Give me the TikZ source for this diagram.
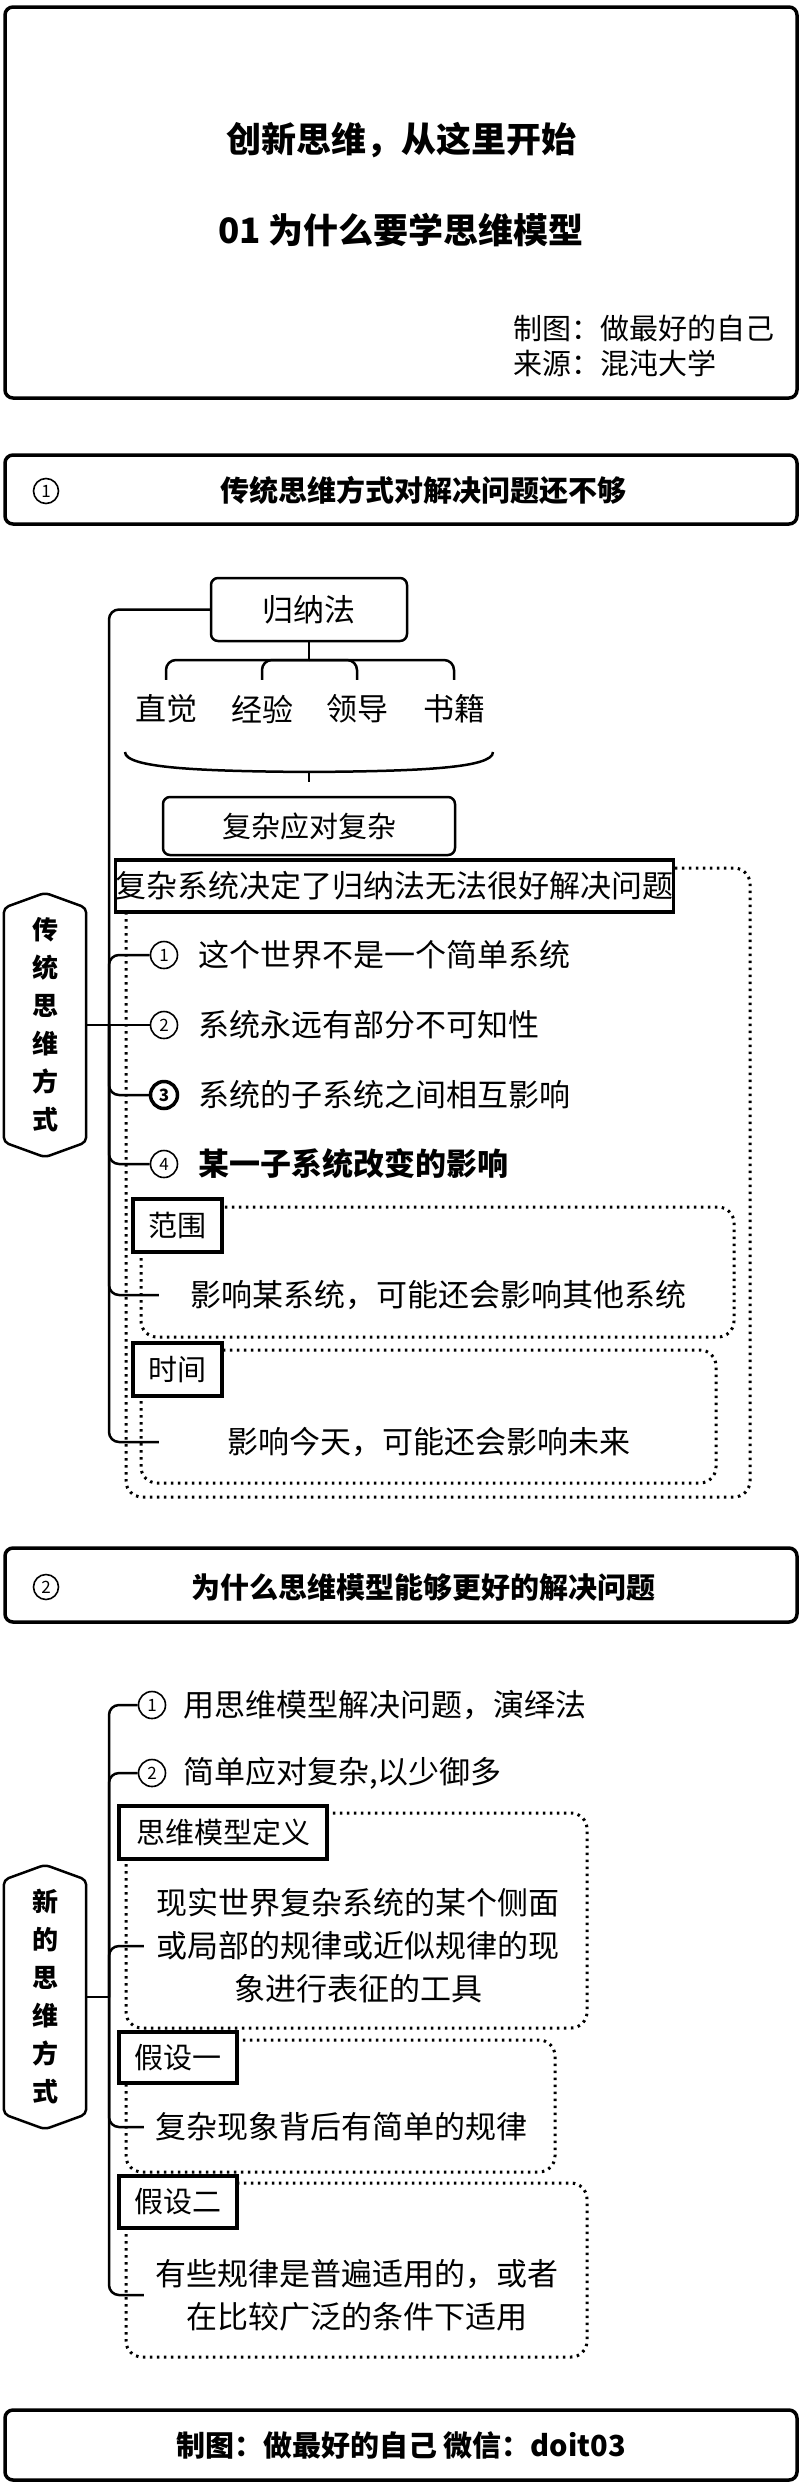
\documentclass[tikz,border=0pt]{standalone}
\usepackage{fontspec}
\setmainfont{Noto Sans CJK SC}
\usetikzlibrary{positioning}
\tikzset{frame/.style = {draw, line width = 3.5, rounded corners = 8,
                         minimum width = 792, inner sep = 0}}
\tikzset{title/.style = {font = \fontsize{35}{42}\selectfont\bfseries}}
\tikzset{head/.style = {font = \fontsize{29}{35}\selectfont\bfseries}}
\tikzset{txt/.style = {font = \fontsize{31}{43}\selectfont, inner sep = 0}}
\tikzset{small/.style = {font = \fontsize{29}{35}\selectfont, inner sep = 0}}
\tikzset{rbox/.style = {draw, line width = 2.5, rounded corners = 7}}
\tikzset{tag/.style = {draw, line width = 3.5, fill = white, inner sep = 0,
                       font = \fontsize{29}{35}\selectfont}}
\tikzset{zone/.style = {line width = 3, dash pattern = on 2.5pt off 4.5pt,
                        rounded corners = 16}}
\tikzset{branch/.style = {line width = 2.5, rounded corners = 10}}
\tikzset{hex/.style = {line width = 2.5, rounded corners = 5}}
\tikzset{root/.style = {align = center, font = \fontsize{26}{38}\selectfont\bfseries,
                        minimum width = 82, minimum height = 264, inner sep = 0}}
\tikzset{num/.style = {circle, draw, line width = 1.6, minimum size = 27, inner sep = 0,
                       font = \fontsize{17}{17}\selectfont}}
\tikzset{numb/.style = {num, line width = 3.5, font = \fontsize{17}{17}\selectfont\bfseries}}

\begin{document}
\begin{tikzpicture}[x = 1pt, y = -1pt]
  \useasboundingbox (0, 0) rectangle (800, 2492);

  % title block
  \node [frame, minimum height = 391] (top) at (401, 202.5) {};
  \node [title] (t1) at (401, 140) {创新思维，从这里开始};
  \node [title] (t2) at (401, 230) {01 为什么要学思维模型};
  \node [small, anchor = west] (by) at (513, 328) {制图：做最好的自己};
  \node [small, anchor = west] (src) at (513, 363) {来源：混沌大学};

  % part 1
  \node [frame, minimum height = 69] (hd1) at (401, 489.5) {};
  \node [num, minimum size = 25] (hd1n) at (46, 491) {1};
  \node [head] (hd1t) at (423, 490) {传统思维方式对解决问题还不够};

  \node [root] (trad) at (45, 1025) {传\\统\\思\\维\\方\\式};
  \draw [hex] (trad.north) -- ([yshift = -15pt]trad.north east)
    -- ([yshift = 15pt]trad.south east) -- (trad.south)
    -- ([yshift = 15pt]trad.south west) -- ([yshift = -15pt]trad.north west) -- cycle;
  \coordinate (hub1) at (109, 1025);

  \node [rbox, txt, minimum width = 196, minimum height = 63] (induct) at (309, 609.5) {归纳法};
  \coordinate (fork) at (309, 660);
  \node [txt, minimum height = 58] (intu) at (166, 709) {直觉};
  \node [txt, minimum height = 58] (expe) at (262, 709) {经验};
  \node [txt, minimum height = 58] (lead) at (357, 709) {领导};
  \node [txt, minimum height = 58] (book) at (454, 709) {书籍};
  \draw [branch] (induct.south) -- (fork);
  \draw [branch] (fork) -| (intu.north);
  \draw [branch] (fork) -| (expe.north);
  \draw [branch] (fork) -| (lead.north);
  \draw [branch] (fork) -| (book.north);

  \coordinate (tip) at (309, 772);
  \draw [branch] (125, 752) .. controls (125, 768) and (200, 771) .. (tip)
    .. controls (420, 771) and (493, 768) .. (493, 752);
  \draw [branch] (tip) -- ++(0, 10);
  \node [rbox, small, minimum width = 292, minimum height = 58] (cope) at (309, 826) {复杂应对复杂};

  \draw [zone] (126, 868) rectangle (750, 1497);
  \node [tag, font = \fontsize{31}{35}\selectfont, minimum width = 555, minimum height = 52]
    (sys) at (394.5, 886) {复杂系统决定了归纳法无法很好解决问题};

  \node [num] (s1an) at (164, 955) {1};
  \node [txt, right = 19.5 of s1an] (s1a) {这个世界不是一个简单系统};
  \node [num] (s1bn) at (164, 1025) {2};
  \node [txt, right = 19.5 of s1bn] (s1b) {系统永远有部分不可知性};
  \node [numb] (s1cn) at (164, 1095) {3};
  \node [txt, right = 19.5 of s1cn] (s1c) {系统的子系统之间相互影响};
  \node [num] (s1dn) at (164, 1164) {4};
  \node [txt, right = 19.5 of s1dn, font = \fontsize{31}{43}\selectfont\bfseries] (s1d) {某一子系统改变的影响};

  \draw [zone] (141, 1207) rectangle (734, 1337);
  \node [tag, minimum width = 89, minimum height = 53] (scope) at (177.5, 1225.5) {范围};
  \node [txt, minimum width = 558] (scopetxt) at (438, 1295) {影响某系统，可能还会影响其他系统};

  \draw [zone] (141, 1350) rectangle (716, 1483);
  \node [tag, minimum width = 89, minimum height = 53] (time) at (177.5, 1369.5) {时间};
  \node [txt, minimum width = 540] (timetxt) at (429, 1442) {影响今天，可能还会影响未来};

  \draw [branch] (trad.east) -- (hub1);
  \draw [branch] (hub1) |- (induct.west);
  \draw [branch] (hub1) |- (s1an.west);
  \draw [branch] (hub1) -- (s1bn.west);
  \draw [branch] (hub1) |- (s1cn.west);
  \draw [branch] (hub1) |- (s1dn.west);
  \draw [branch] (hub1) |- (scopetxt.west);
  \draw [branch] (hub1) |- (timetxt.west);

  % part 2
  \node [frame, minimum height = 74] (hd2) at (401, 1585) {};
  \node [num, minimum size = 25] (hd2n) at (46, 1587) {2};
  \node [head] (hd2t) at (423, 1587) {为什么思维模型能够更好的解决问题};

  \node [root] (newway) at (45, 1997) {新\\的\\思\\维\\方\\式};
  \draw [hex] (newway.north) -- ([yshift = -15pt]newway.north east)
    -- ([yshift = 15pt]newway.south east) -- (newway.south)
    -- ([yshift = 15pt]newway.south west) -- ([yshift = -15pt]newway.north west) -- cycle;
  \coordinate (hub2) at (109, 1997);

  \node [num] (m1n) at (152, 1705) {1};
  \node [txt, right = 16.5 of m1n] (m1) {用思维模型解决问题，演绎法};
  \node [num] (m2n) at (152, 1773) {2};
  \node [txt, right = 16.5 of m2n] (m2) {简单应对复杂,以少御多};

  \draw [zone] (126, 1813) rectangle (587, 2028);
  \node [tag, minimum width = 208, minimum height = 53] (defn) at (223, 1832.5) {思维模型定义};
  \node [txt, align = center, minimum width = 428] (deftxt) at (358, 1946)
    {现实世界复杂系统的某个侧面\\或局部的规律或近似规律的现\\象进行表征的工具};

  \draw [zone] (126, 2040) rectangle (555, 2172);
  \node [tag, minimum width = 118, minimum height = 51] (hyp1) at (178, 2057.5) {假设一};
  \node [txt, minimum width = 394] (hyp1txt) at (341, 2127) {复杂现象背后有简单的规律};

  \draw [zone] (126, 2183) rectangle (587, 2357);
  \node [tag, minimum width = 118, minimum height = 52] (hyp2) at (178, 2202) {假设二};
  \node [txt, align = center, minimum width = 426] (hyp2txt) at (357, 2295)
    {有些规律是普遍适用的，或者\\在比较广泛的条件下适用};

  \draw [branch] (newway.east) -- (hub2);
  \draw [branch] (hub2) |- (m1n.west);
  \draw [branch] (hub2) |- (m2n.west);
  \draw [branch] (hub2) |- (deftxt.west);
  \draw [branch] (hub2) |- (hyp1txt.west);
  \draw [branch] (hub2) |- (hyp2txt.west);

  % footer
  \node [frame, head, minimum height = 70] (foot) at (401, 2445) {制图：做最好的自己 微信：doit03};
\end{tikzpicture}
\end{document}
